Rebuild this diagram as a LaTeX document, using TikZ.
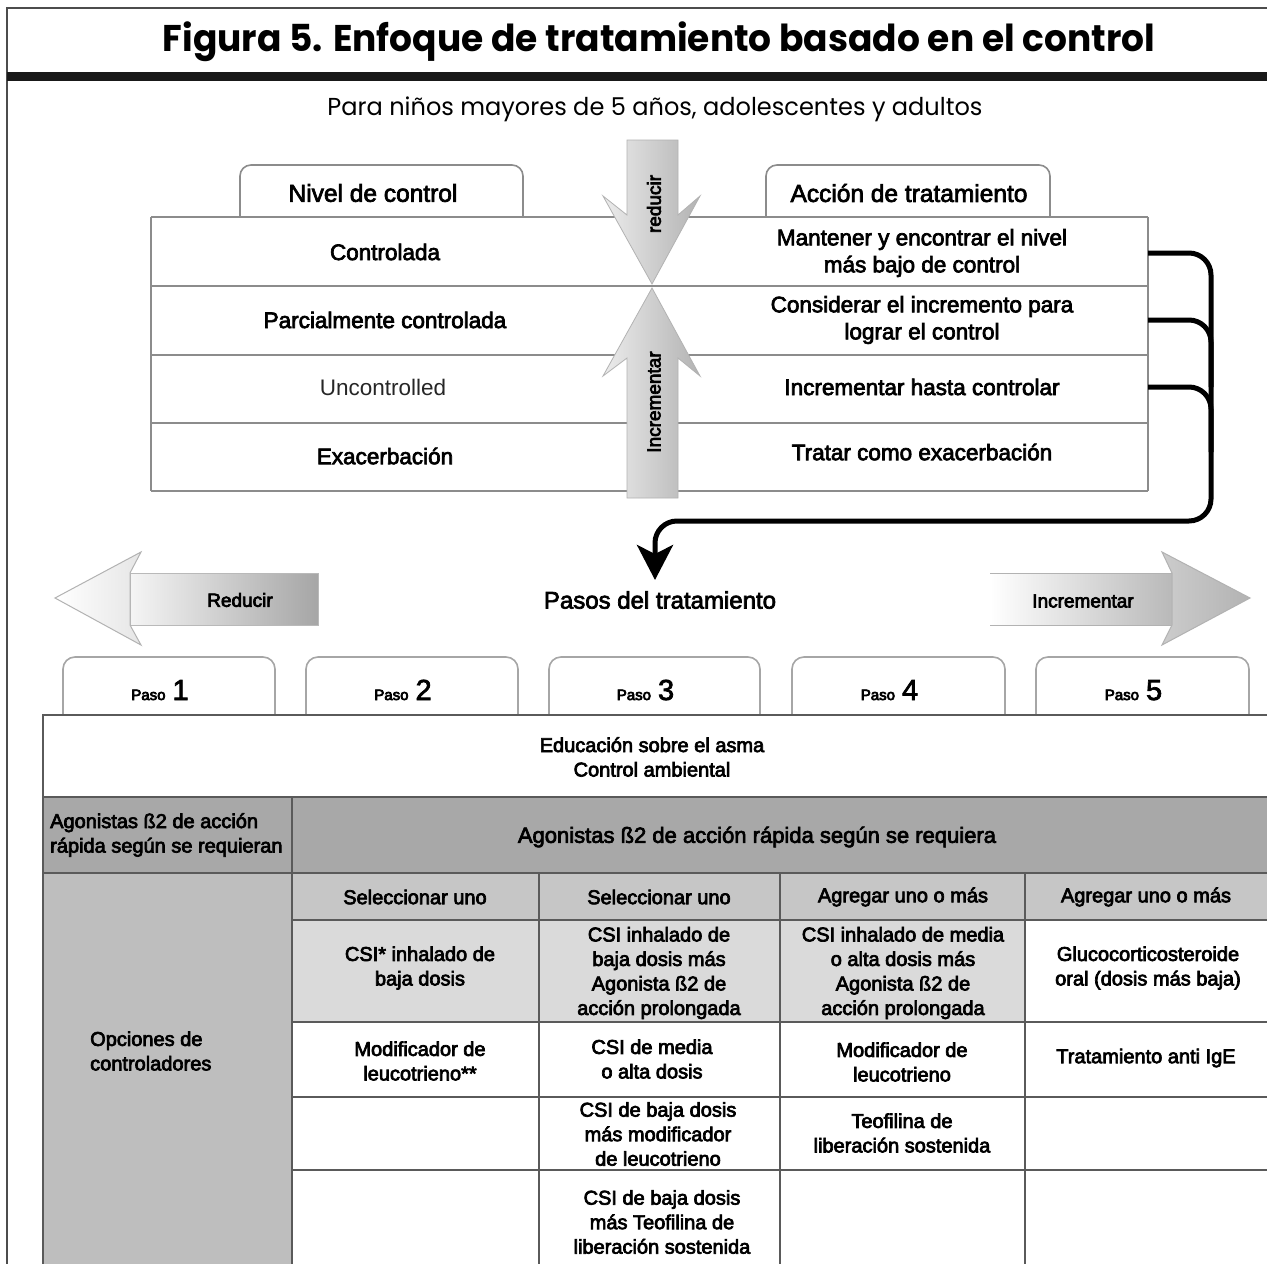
\documentclass[tikz,border=0pt]{standalone}
\usepackage{graphicx}
\usepackage{fontspec}
\setmainfont{Liberation Sans}
\newfontfamily\heavy{Liberation Sans}
\newfontfamily\futura{Poppins}
\usetikzlibrary{arrows.meta}
\definecolor{gridc}{HTML}{5A5A5A}
\definecolor{toprule}{HTML}{8C8C8C}
\definecolor{agon}{HTML}{A8A8A8}
\definecolor{hdr}{HTML}{C6C6C6}
\definecolor{leftc}{HTML}{BEBEBE}
\definecolor{lightc}{HTML}{DADADA}
\tikzset{
  emb/.style={execute at begin node={\special{pdf:literal direct 0.7 w 2 Tr}},
              execute at end node={\special{pdf:literal direct 0 Tr}}},
  txt/.style={emb, inner sep=0pt, align=center, font=\heavy\fontsize{22.5}{27}\selectfont},
  cell/.style={emb, inner sep=0pt, align=center, font=\heavy\fontsize{20}{24.5}\selectfont},
  tabtxt/.style={emb, inner sep=0pt, font=\heavy\fontsize{24.5}{28}\selectfont},
  tabline/.style={draw=toprule, line width=1.6pt, fill=white, rounded corners=11pt},
  rowline/.style={draw=toprule, line width=2pt},
  gridl/.style={draw=gridc, line width=2pt},
  conn/.style={draw=black, line width=5pt, rounded corners=22pt},
  pasotab/.style={draw=gray!70, line width=1.6pt, fill=white, rounded corners=12pt},
  vtxt/.style={emb, rotate=90, inner sep=0pt, font=\heavy\fontsize{19}{20}\selectfont},
  arrtxt/.style={emb, inner sep=0pt, font=\heavy\fontsize{19}{20}\selectfont},
}
\begin{document}
\begin{tikzpicture}[x=1pt,y=-1pt]
\useasboundingbox (0,0) rectangle (1267,1264);
\fill[white] (0,0) rectangle (1267,1264);
% frame and title
\draw[gray!60!black, line width=1.5pt] (7,1264) -- (7,8) -- (1267,8);
\fill[black!90] (7,72) rectangle (1267,81);
\node[inner sep=0pt] (title) at (659,42) {\resizebox*{992pt}{40pt}{\futura\bfseries Figura 5. Enfoque de tratamiento basado en el control}};
\node[inner sep=0pt] (subtitle) at (655,109) {\resizebox*{655pt}{25pt}{\futura Para niños mayores de 5 años, adolescentes y adultos}};

% top tabs
\draw[tabline] (240,217) -- (240,165) -- (523,165) -- (523,217);
\node[tabtxt] (nivel) at (373,193) {Nivel de control};
\draw[tabline] (766,217) -- (766,165) -- (1050,165) -- (1050,217);
\node[tabtxt] (accion) at (909,193) {Acción de tratamiento};

% top rows
\foreach \y in {217,286,355,423,491} \draw[rowline] (151,\y) -- (1148,\y);
\draw[rowline] (151,217) -- (151,491);
\draw[rowline] (1148,217) -- (1148,491);

\node[txt] (l1) at (385,252) {Controlada};
\node[txt] (l2) at (385,320) {Parcialmente controlada};
\node[inner sep=0pt, font=\fontsize{22.5}{27}\selectfont, text=gray!30!black] (l3) at (383,387) {Uncontrolled};
\node[txt] (l4) at (385,456) {Exacerbación};
\node[txt, minimum width=452pt] (r1) at (922,253) {Mantener y encontrar el nivel\\más bajo de control};
\node[txt, minimum width=452pt] (r2) at (922,320) {Considerar el incremento para\\lograr el control};
\node[txt, minimum width=452pt] (r3) at (922,387) {Incrementar hasta controlar};
\node[txt, minimum width=452pt] (r4) at (922,452) {Tratar como exacerbación};

% vertical arrows
\shade[left color=gray!15, right color=gray!60, draw=gray!60, line width=0.8pt]
  (627,140) -- (678,140) -- (678,215) -- (700,196) -- (652,284) -- (603,196) -- (627,215) -- cycle;
\shade[left color=gray!15, right color=gray!60, draw=gray!60, line width=0.8pt]
  (627,498) -- (678,498) -- (678,358) -- (700,376) -- (652,288) -- (603,376) -- (627,358) -- cycle;
\node[vtxt] (reducirv) at (654,204) {reducir};
\node[vtxt] (incv) at (654,402) {Incrementar};

% connector
\coordinate (vx) at (1211,0);
\coordinate (turn) at (655,521);
\coordinate (ptip) at (655,580);
\draw[conn, -{Stealth[length=35pt,width=36pt,inset=9pt]}] (r1.east) -- (r1.east -| vx) -- (vx |- turn) -- (turn) -- (ptip);
\draw[conn] (r2.east) -- (r2.east -| vx) -- (vx |- r3.east);
\draw[conn] (r3.east) -- (r3.east -| vx) -- (vx |- r4.east);

% horizontal arrows
\shade[left color=gray!8, right color=gray!70, draw=gray!55, line width=0.8pt] (130,573) rectangle (318,625);
\shade[left color=white, right color=gray!20, draw=gray!60, line width=1pt]
  (55,598) -- (141,552) -- (130,573) -- (130,625) -- (141,645) -- cycle;
\node[arrtxt] (redtxt) at (240,600) {Reducir};
\shade[left color=white, right color=gray!55] (990,573) rectangle (1172,625);
\draw[gray!60, line width=1pt] (990,573) -- (1172,573) (990,625) -- (1172,625);
\shade[left color=gray!40, right color=gray!60, draw=gray!60, line width=1pt]
  (1250,598) -- (1162,552) -- (1172,573) -- (1172,625) -- (1162,645) -- cycle;
\node[arrtxt] (inctxt) at (1083,601) {Incrementar};
\node[emb, inner sep=0pt, font=\heavy\fontsize{24}{26}\selectfont] (pasos) at (660,600) {Pasos del tratamiento};

% paso tabs
\foreach \a/\b/\n in {63/275/1, 306/518/2, 549/760/3, 792/1005/4, 1036/1249/5} {
  \draw[pasotab] (\a,715) -- (\a,657) -- (\b,657) -- (\b,715);
  \node[emb, anchor=base, inner sep=0pt, font=\heavy] (paso\n) at ({(\a+\b)/2-9},700)
    {\fontsize{15}{16}\selectfont Paso\hspace{7pt}\fontsize{29}{30}\selectfont \n};
}

% bottom table fills
\fill[agon] (43,797) rectangle (1267,873);
\fill[hdr] (292,873) rectangle (1267,920);
\fill[leftc] (43,873) rectangle (292,1264);
\fill[lightc] (292,920) rectangle (1025,1022);
% grid
\draw[gridl] (43,1264) -- (43,715) -- (1267,715);
\foreach \y in {797,873} \draw[gridl] (43,\y) -- (1267,\y);
\foreach \y in {920,1022,1097,1170} \draw[gridl] (292,\y) -- (1267,\y);
\draw[gridl] (292,797) -- (292,1264);
\foreach \x in {539,780,1025} \draw[gridl] (\x,873) -- (\x,1264);

% bottom texts
\node[cell] (edu) at (652,757) {Educación sobre el asma\\Control ambiental};
\node[cell, align=left, anchor=west] (agl) at (50,835) {Agonistas ß2 de acción\\rápida según se requieran};
\node[cell, font=\heavy\fontsize{22}{26}\selectfont] (agr) at (757,837) {Agonistas ß2 de acción rápida según se requiera};
\node[cell, align=left, anchor=west] (opc) at (90,1051) {Opciones de\\controladores};
\node[cell] (h1) at (415,897) {Seleccionar uno};
\node[cell] (h2) at (659,897) {Seleccionar uno};
\node[cell] (h3) at (903,897) {Agregar uno o más};
\node[cell] (h4) at (1146,897) {Agregar uno o más};
\node[cell] (a1) at (420,968) {CSI* inhalado de\\baja dosis};
\node[cell] (a2) at (659,973) {CSI inhalado de\\baja dosis más\\Agonista ß2 de\\acción prolongada};
\node[cell] (a3) at (903,973) {CSI inhalado de media\\o alta dosis más\\Agonista ß2 de\\acción prolongada};
\node[cell] (a4) at (1148,968) {Glucocorticosteroide\\oral (dosis más baja)};
\node[cell] (b1) at (420,1061) {Modificador de\\leucotrieno**};
\node[cell] (b2) at (652,1059) {CSI de media\\o alta dosis};
\node[cell] (b3) at (902,1062) {Modificador de\\leucotrieno};
\node[cell] (b4) at (1146,1058) {Tratamiento anti IgE};
\node[cell] (c2) at (658,1134) {CSI de baja dosis\\más modificador\\de leucotrieno};
\node[cell] (c3) at (902,1133) {Teofilina de\\liberación sostenida};
\node[cell] (d2) at (662,1222) {CSI de baja dosis\\más Teofilina de\\liberación sostenida};
\end{tikzpicture}
\end{document}
